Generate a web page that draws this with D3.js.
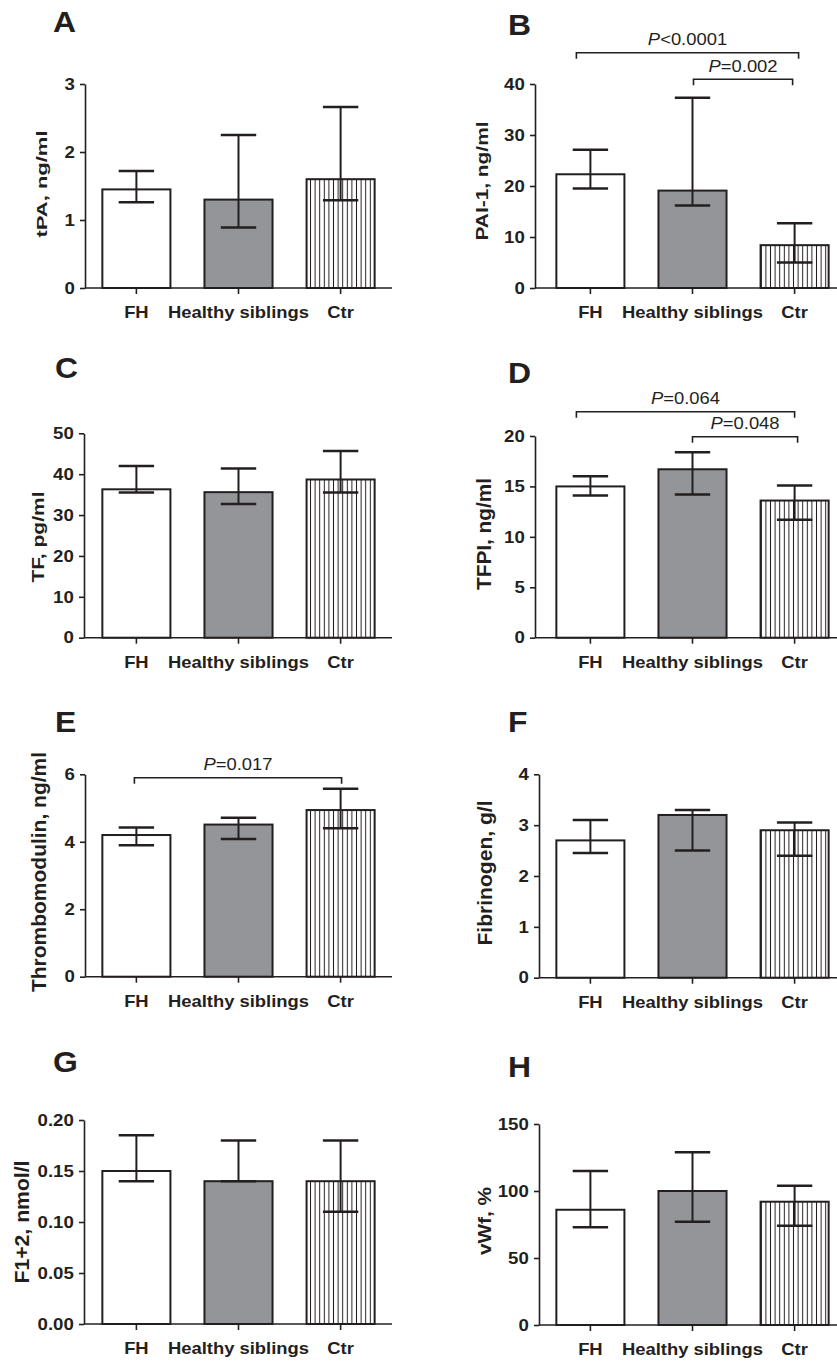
<!DOCTYPE html>
<html>
<head>
<meta charset="utf-8">
<script src="https://d3js.org/d3.v7.min.js"></script>
<style>
  body { margin: 0; background: #fff; }
  text { font-family: "Liberation Sans", Arial, Helvetica, sans-serif; fill: #231f20; }
</style>
</head>
<body>
<svg class="figure" width="837" height="1363"></svg>
<script>
// ---- data ----
var categories = ["FH", "Healthy siblings", "Ctr"];
var panelNames = ["A", "B", "C", "D", "E", "F", "G", "H"];
var yTitles = ["tPA, ng/ml", "PAI-1, ng/ml", "TF, pg/ml", "TFPI, ng/ml",
               "Thrombomodulin, ng/ml", "Fibrinogen, g/l", "F1+2, nmol/l", "vWf, %"];
var yMax  = [3, 40, 50, 20, 6, 4, 0.20, 150];
var yStep = [1, 10, 10, 5, 2, 1, 0.05, 50];

var means = [
  [1.45, 1.30, 1.60],
  [22.3, 19.1, 8.4],
  [36.3, 35.6, 38.7],
  [15.0, 16.7, 13.6],
  [4.20, 4.51, 4.94],
  [2.70, 3.20, 2.90],
  [0.150, 0.140, 0.140],
  [86, 100, 92]
];
var upper = [
  [1.72, 2.25, 2.66],
  [27.1, 37.3, 12.7],
  [42.0, 41.4, 45.7],
  [16.0, 18.4, 15.1],
  [4.42, 4.71, 5.57],
  [3.10, 3.30, 3.05],
  [0.185, 0.180, 0.180],
  [115, 129, 104]
];
var lower = [
  [1.26, 0.89, 1.29],
  [19.5, 16.2, 5.0],
  [35.5, 32.7, 35.5],
  [14.1, 14.2, 11.7],
  [3.90, 4.08, 4.40],
  [2.45, 2.50, 2.40],
  [0.140, 0.140, 0.110],
  [73, 77, 74]
];

// significance brackets
var sigPanel = ["B", "B", "D", "D", "E"];
var sigFrom  = ["FH", "Healthy siblings", "FH", "Healthy siblings", "FH"];
var sigTo    = ["Ctr", "Ctr", "Ctr", "Ctr", "Ctr"];
var sigOp    = ["<", "=", "=", "=", "="];
var sigP     = ["0.0001", "0.002", "0.064", "0.048", "0.017"];

// ---- layout (pixels) ----
// ax: y axis x, x0: start of band range, top/bot: y of max / zero
// lx,ly: panel letter; tx: y-title baseline x, ts: size, tl: length, tc: centre y
var layout = {
  A: {ax: 85,  x0: 85,  top: 84,    bot: 288,   lx: 53,  ly: 32,    tx: 47,  ts: 15,   tl: 107, tc: 184},
  B: {ax: 535, x0: 539, top: 84,    bot: 288,   lx: 508, ly: 35,    tx: 488, ts: 17,   tl: 119, tc: 181},
  C: {ax: 84,  x0: 85,  top: 433.3, bot: 637.7, lx: 55,  ly: 378,   tx: 44,  ts: 17,   tl: 91,  tc: 537},
  D: {ax: 535, x0: 539, top: 436,   bot: 637.7, lx: 508, ly: 383,   tx: 491, ts: 19.5, tl: 112, tc: 534},
  E: {ax: 85,  x0: 85,  top: 774.3, bot: 976.7, lx: 55,  ly: 731.7, tx: 46,  ts: 19.5, tl: 240, tc: 872},
  F: {ax: 539, x0: 539, top: 774.3, bot: 977.7, lx: 508, ly: 731.7, tx: 492, ts: 21,   tl: 145, tc: 873},
  G: {ax: 84,  x0: 85,  top: 1120,  bot: 1324,  lx: 53,  ly: 1071.7,tx: 29,  ts: 20,   tl: 123, tc: 1222},
  H: {ax: 539, x0: 539, top: 1124,  bot: 1325,  lx: 508, ly: 1076.7,tx: 491, ts: 18,   tl: 68,  tc: 1221}
};
var sigLayout = [
  {dy: -31.3, dx0: -14, dx1: 4},
  {dy: -4.7,  dx0: 1,   dx1: -2},
  {dy: -24.3, dx0: -14, dx1: 0},
  {dy: 0.7,   dx0: 0,   dx1: 3},
  {dy: 3.4,   dx0: -2,  dx1: 1}
];

var ink = "#231f20";
var grey = "#939598";
var hStretch = 1.13;   // the original lettering is set wide

var svg = d3.select(".figure");

// vertical hatch for the Ctr bars
svg.append("defs").append("pattern")
    .attr("id", "hatch")
    .attr("patternUnits", "userSpaceOnUse")
    .attr("width", 4.6)
    .attr("height", 10)
  .append("line")
    .attr("x1", 2.3).attr("x2", 2.3)
    .attr("y1", 0).attr("y2", 10)
    .style("stroke", ink)
    .style("stroke-width", 1);

var fills = ["#fff", grey, "url(#hatch)"];

panelNames.forEach(function(name, i) {
  var L = layout[name];
  var g = svg.append("g").attr("class", "panel-" + name);

  var x = d3.scaleBand()
      .domain(categories)
      .range([L.x0, L.x0 + 307])
      .paddingInner(1 / 3)
      .paddingOuter(0.17);

  var y = d3.scaleLinear()
      .domain([0, yMax[i]])
      .range([L.bot, L.top]);

  var ticks = d3.range(0, yMax[i] + yStep[i] / 2, yStep[i]);
  var fmt = yStep[i] < 1 ? d3.format(".2f") : d3.format("d");

  var rows = categories.map(function(c, j) {
    return {cat: c, mean: means[i][j], hi: upper[i][j], lo: lower[i][j], fill: fills[j]};
  });

  // bars
  g.selectAll("rect.bar")
    .data(rows)
    .enter().append("rect")
      .attr("class", "bar")
      .attr("x", function(d) { return x(d.cat); })
      .attr("y", function(d) { return y(d.mean); })
      .attr("width", x.bandwidth())
      .attr("height", function(d) { return y(0) - y(d.mean); })
      .style("fill", function(d) { return d.fill; })
      .style("stroke", ink)
      .style("stroke-width", 2);

  // error bars
  var cap = x.bandwidth() * 0.26;
  var eb = g.selectAll("g.err")
    .data(rows)
    .enter().append("g")
      .attr("class", "err")
      .attr("transform", function(d) { return "translate(" + (x(d.cat) + x.bandwidth() / 2) + ",0)"; })
      .style("stroke", ink);
  eb.append("line")
      .attr("y1", function(d) { return y(d.lo); })
      .attr("y2", function(d) { return y(d.hi); })
      .style("stroke-width", 2);
  eb.append("line")
      .attr("x1", -cap).attr("x2", cap)
      .attr("y1", function(d) { return y(d.hi); })
      .attr("y2", function(d) { return y(d.hi); })
      .style("stroke-width", 2.5);
  eb.append("line")
      .attr("x1", -cap).attr("x2", cap)
      .attr("y1", function(d) { return y(d.lo); })
      .attr("y2", function(d) { return y(d.lo); })
      .style("stroke-width", 2.5);

  // y axis
  var ya = g.append("g")
      .attr("transform", "translate(" + L.ax + ",0)")
      .call(d3.axisLeft(y).tickValues(ticks).tickFormat(fmt).tickSize(5).tickSizeOuter(0).tickPadding(4));
  ya.selectAll("path, line").style("stroke", ink).style("stroke-width", 1.6);
  ya.selectAll("text")
      .attr("transform", "scale(" + hStretch + ",1)")
      .style("font-size", "16.5px")
      .style("font-weight", "bold")
      .style("fill", ink);

  // x axis
  var xa = g.append("g")
      .attr("transform", "translate(0," + L.bot + ")")
      .call(d3.axisBottom(x).tickSize(6).tickSizeOuter(0).tickFormat(""));
  xa.select(".domain").remove();
  xa.selectAll("line").style("stroke", ink).style("stroke-width", 1.6);
  g.append("line")
      .attr("x1", L.ax).attr("x2", L.x0 + 307)
      .attr("y1", L.bot).attr("y2", L.bot)
      .style("stroke", ink)
      .style("stroke-width", 1.6);

  // category labels
  g.selectAll("g.cat")
    .data(categories)
    .enter().append("g")
      .attr("class", "cat")
      .attr("transform", function(d) { return "translate(" + (x(d) + x.bandwidth() / 2) + "," + (L.bot + 30) + ")"; })
    .append("text")
      .attr("transform", "scale(" + hStretch + ",1)")
      .attr("text-anchor", "middle")
      .style("font-size", "16.3px")
      .style("font-weight", "bold")
      .text(function(d) { return d; });

  // y title
  g.append("text")
      .attr("transform", "translate(" + L.tx + "," + L.tc + ") rotate(-90)")
      .attr("text-anchor", "middle")
      .attr("textLength", L.tl)
      .attr("lengthAdjust", "spacingAndGlyphs")
      .style("font-size", L.ts + "px")
      .style("font-weight", "bold")
      .text(yTitles[i]);

  // panel letter
  g.append("g")
      .attr("transform", "translate(" + L.lx + "," + L.ly + ")")
    .append("text")
      .attr("transform", "scale(1.1,1)")
      .style("font-size", "29px")
      .style("font-weight", "bold")
      .text(name);

  // significance brackets for this panel
  sigPanel.forEach(function(p, k) {
    if (p !== name) return;
    var S = sigLayout[k];
    var xa0 = x(sigFrom[k]) + x.bandwidth() / 2 + S.dx0;
    var xa1 = x(sigTo[k]) + x.bandwidth() / 2 + S.dx1;
    var by = L.top + S.dy;
    g.append("path")
        .attr("d", "M" + xa0 + "," + (by + 6) + "V" + by + "H" + xa1 + "V" + (by + 6))
        .style("fill", "none")
        .style("stroke", ink)
        .style("stroke-width", 1.6);
    var t = g.append("g")
        .attr("transform", "translate(" + ((xa0 + xa1) / 2) + "," + (by - 7.5) + ")")
      .append("text")
        .attr("transform", "scale(" + hStretch + ",1)")
        .attr("text-anchor", "middle")
        .style("font-size", "16.3px");
    t.append("tspan").style("font-style", "italic").text("P");
    t.append("tspan").text(sigOp[k] + sigP[k]);
  });
});
</script>
</body>
</html>
